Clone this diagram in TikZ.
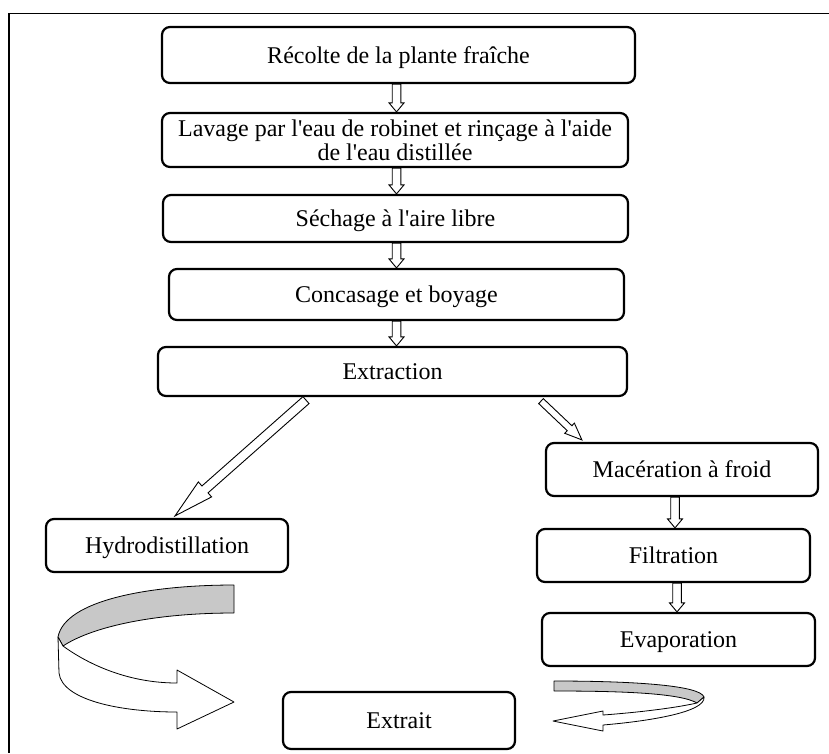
\documentclass[tikz,border=0pt]{standalone}
\usepackage{fontspec}
\setmainfont{Liberation Serif}[Ligatures=TeXOff]
\usetikzlibrary{calc}
\tikzset{
  stepbox/.style={draw, line width=2.2pt, rounded corners=8pt, inner sep=0pt,
    font=\fontsize{24}{24}\selectfont},
  oneline/.style={text height=16pt, text depth=0pt},
  hollow/.style={draw, line width=0.9pt, fill=white, line join=miter},
  ribbon/.style={draw, line width=0.8pt, line join=round}
}
\definecolor{ribbongray}{RGB}{200,200,200}
\newcommand{\harrowfig}[5]{%
  \coordinate (ha-s) at (#1);
  \coordinate (ha-e) at (#2);
  \coordinate (ha-b) at ($(ha-e)!#5!(ha-s)$);
  \draw[hollow] ($(ha-s)!#3!90:(ha-e)$) -- ($(ha-b)!#3!-90:(ha-s)$) --
    ($(ha-b)!#4!-90:(ha-s)$) -- (ha-e) -- ($(ha-b)!#4!90:(ha-s)$) --
    ($(ha-b)!#3!90:(ha-s)$) -- ($(ha-s)!#3!-90:(ha-e)$) -- cycle;}
\begin{document}
\begin{tikzpicture}[x=1pt,y=-1pt]
\useasboundingbox (0,0) rectangle (829,753);
\fill[white] (0,0) rectangle (829,753);
\draw[line width=1.6pt] (829,13.5) -- (9,13.5) -- (9,753);

% left column
\node[stepbox, oneline, minimum width=473pt, minimum height=56pt] (r1) at (398.5,55) {Récolte de la plante fraîche};
\node[stepbox, align=center, minimum width=466pt, minimum height=54pt] (r2) at (395,140) {Lavage par l'eau de robinet et rinçage à l'aide\\de l'eau distillée};
\node[stepbox, oneline, minimum width=465pt, minimum height=47pt] (r3) at (395.5,218.5) {Séchage à l'aire libre};
\node[stepbox, oneline, minimum width=455pt, minimum height=51pt] (r4) at (396.5,294.5) {Concasage et boyage};
\node[stepbox, oneline, minimum width=469pt, minimum height=49pt] (r5) at (392.5,371.5) {Extraction};

% branches
\node[stepbox, oneline, minimum width=272pt, minimum height=53pt] (mac) at (682,469.5) {Macération à froid};
\node[stepbox, oneline, minimum width=242pt, minimum height=53pt] (hyd) at (167,545.5) {Hydrodistillation};
\node[stepbox, oneline, minimum width=273pt, minimum height=53pt] (filt) at (673.5,555.5) {Filtration};
\node[stepbox, oneline, minimum width=273pt, minimum height=53pt] (evap) at (678.5,639.5) {Evaporation};
\node[stepbox, oneline, minimum width=232pt, minimum height=57pt] (ext) at (399,720.5) {Extrait};

% vertical hollow arrows
\harrowfig{r4.north |- r1.south}{r4.north |- r2.north}{4.3pt}{7.5pt}{9pt}
\harrowfig{r4.north |- r2.south}{r4.north |- r3.north}{4.3pt}{7.5pt}{9pt}
\harrowfig{r4.north |- r3.south}{r4.north}{4.3pt}{7.5pt}{9pt}
\harrowfig{r4.south}{r4.south |- r5.north}{4.3pt}{7.5pt}{9pt}
\harrowfig{$(filt.north |- mac.south)+(1.5,0)$}{$(filt.north)+(1.5,0)$}{4.3pt}{7.5pt}{9pt}
\harrowfig{$(filt.south)+(3.5,0)$}{$(filt.south |- evap.north)+(3.5,0)$}{4.3pt}{7.5pt}{9pt}

% diagonal hollow arrows
\harrowfig{$(r5.south)+(-86.5,3)$}{$(hyd.north)+(8,-2)$}{4.6pt}{10pt}{40pt}
\harrowfig{$(r5.south)+(148.5,4)$}{$(mac.north west)+(37,-2)$}{3.4pt}{7pt}{17pt}

% big ribbon arrow (Hydrodistillation -> Extrait)
\draw[ribbon, fill=ribbongray] (234,585) .. controls (150,585) and (65,600) .. (58,637)
  -- (63,646) .. controls (90,628) and (150,613) .. (234,613) -- cycle;
\draw[ribbon, fill=white] (58,637) -- (59,673) .. controls (62,700) and (120,712) .. (177,712)
  -- (177,729) -- (234,702) -- (177,670) -- (177,683)
  .. controls (125,683) and (85,662) .. (63,646) -- cycle;

% small ribbon arrow (Evaporation -> Extrait)
\draw[ribbon, fill=ribbongray] (554,681) .. controls (630,681) and (700,685) .. (704,697)
  -- (697,703) .. controls (680,693) and (620,691) .. (554,691) -- cycle;
\draw[ribbon, fill=white] (697,703) .. controls (670,709) and (630,713) .. (603,715)
  -- (603,711) -- (553,721) -- (603,731) -- (603,725)
  .. controls (650,721) and (706,712) .. (704,697) -- cycle;
\end{tikzpicture}
\end{document}
